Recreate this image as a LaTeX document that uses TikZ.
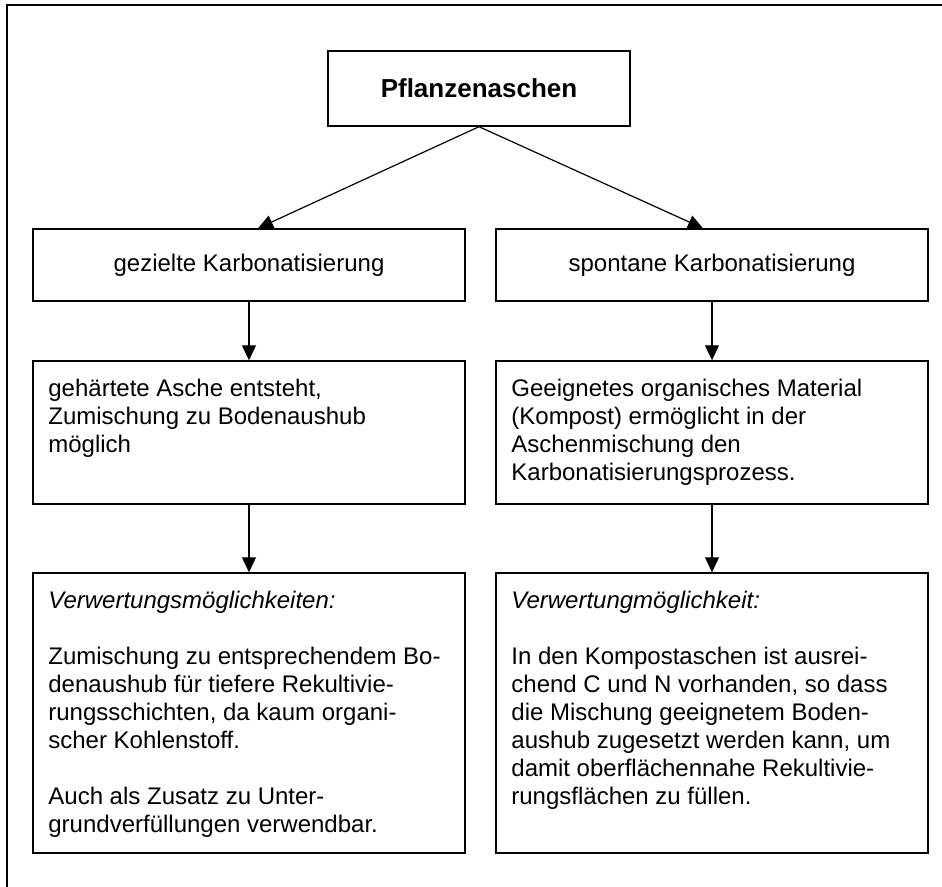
\documentclass[tikz,border=0pt]{standalone}
\usepackage{fontspec}
\setmainfont{Liberation Sans}
\usetikzlibrary{arrows.meta, positioning}

\tikzset{
  box/.style={draw, line width=0.7pt, minimum width=216pt, inner sep=0pt},
  txt/.style={anchor=north west, align=left, inner sep=0pt, font=\fontsize{12}{14}\selectfont},
  link/.style={-{Triangle[length=7.5pt, width=7pt]}, line width=0.6pt},
}

\begin{document}
\begin{tikzpicture}[x=0.5pt, y=-0.5pt]
    \useasboundingbox (0,0) rectangle (942,887);
    % page frame, top and left only
    \draw[line width=1pt] (942,4.8) -- (6.8,4.8) -- (6.8,887);

    \node[box, minimum width=151pt, minimum height=37.5pt, font=\fontsize{13}{15}\selectfont\bfseries] (asche) at (479,88.5) {Pflanzenaschen};

    \node[box, minimum height=36pt, font=\fontsize{12}{14}\selectfont] (gez) at (249,265) {gezielte Karbonatisierung};
    \node[box, minimum height=36pt, font=\fontsize{12}{14}\selectfont] (spon) at (712,265) {spontane Karbonatisierung};

    \node[box, minimum height=71.5pt] (hart) at (249,432.5) {};
    \node[box, minimum height=71.5pt] (kompost) at (712,432.5) {};
    \node[txt] (hartT) at (48,379) {gehärtete Asche entsteht,\\Zumischung zu Bodenaushub\\möglich};
    \node[txt] (kompostT) at (511,379) {Geeignetes organisches Material\\(Kompost) ermöglicht in der\\Aschenmischung den\\Karbonatisierungsprozess.};

    \node[box, minimum height=140pt] (verwL) at (249,713) {};
    \node[box, minimum height=140pt] (verwR) at (712,713) {};
    \node[txt] (verwLT) at (48,591) {\textit{Verwertungsmöglichkeiten:}\\[14pt]
      Zumischung zu entsprechendem Bo-\\denaushub für tiefere Rekultivie-\\rungsschichten, da kaum organi-\\scher Kohlenstoff.\\[14pt]
      Auch als Zusatz zu Unter-\\grundverfüllungen verwendbar.};
    \node[txt] (verwRT) at (511,591) {\textit{Verwertungmöglichkeit:}\\[14pt]
      In den Kompostaschen ist ausrei-\\chend C und N vorhanden, so dass\\die Mischung geeignetem Boden-\\aushub zugesetzt werden kann, um\\damit oberflächennahe Rekultivie-\\rungsflächen zu füllen.};

    \draw[link] (asche.south) -- ([xshift=4.5pt]gez.north);
    \draw[link] (asche.south) -- ([xshift=-4.5pt]spon.north);
    \draw[link] (gez) -- (hart);
    \draw[link] (spon) -- (kompost);
    \draw[link] (hart) -- (verwL);
    \draw[link] (kompost) -- (verwR);
\end{tikzpicture}
\end{document}
